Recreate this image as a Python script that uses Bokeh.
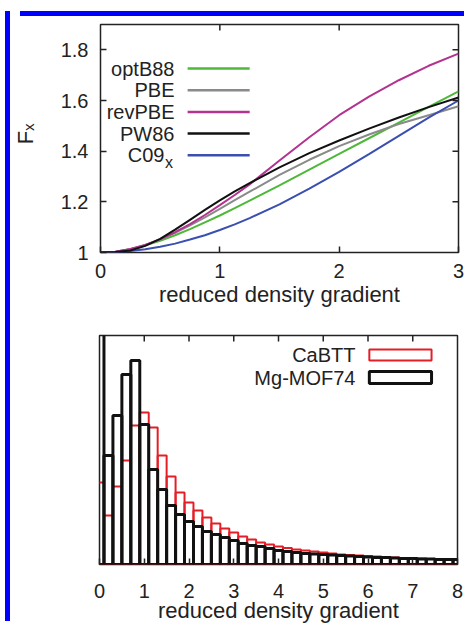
from bokeh.plotting import figure
from bokeh.models import Range1d, FixedTicker, Div
from bokeh.layouts import column, row
from bokeh.core.properties import value
from bokeh.embed import file_html
from bokeh.resources import INLINE

# ---------------- data: top panel (exchange enhancement factors) ----------------
s_grid = [0.0, 0.125, 0.25, 0.375, 0.5, 0.625, 0.75, 0.875, 1.0, 1.125, 1.25,
          1.5, 1.75, 2.0, 2.25, 2.5, 2.75, 3.0]
fx_optB88 = [1.000, 1.003, 1.013, 1.028, 1.046, 1.068, 1.092, 1.119, 1.146, 1.175, 1.205,
             1.265, 1.327, 1.389, 1.451, 1.513, 1.575, 1.636]
fx_PBE    = [1.000, 1.003, 1.013, 1.030, 1.051, 1.078, 1.107, 1.139, 1.172, 1.207, 1.240,
             1.306, 1.366, 1.420, 1.466, 1.507, 1.542, 1.577]
fx_revPBE = [1.000, 1.003, 1.014, 1.030, 1.053, 1.080, 1.112, 1.148, 1.187, 1.227, 1.269,
             1.363, 1.455, 1.542, 1.615, 1.680, 1.737, 1.785]
fx_PW86   = [1.000, 1.002, 1.008, 1.026, 1.054, 1.090, 1.129, 1.168, 1.206, 1.241, 1.274,
             1.336, 1.392, 1.442, 1.489, 1.533, 1.574, 1.612]
fx_C09x   = [1.000, 1.001, 1.006, 1.013, 1.023, 1.035, 1.051, 1.068, 1.089, 1.111, 1.136,
             1.190, 1.252, 1.318, 1.388, 1.460, 1.532, 1.600]
top_names = ["optB88", "PBE", "revPBE", "PW86", "C09"]
top_xticks = [0, 1, 2, 3]
top_yticks = [1, 1.2, 1.4, 1.6, 1.8]
x_title = "reduced density gradient"
y_title = "F\u2093"

# ---------------- data: bottom panel (histograms, arbitrary units) ----------------
bin_centers = [0.0, 0.2, 0.4, 0.6, 0.8, 1.0, 1.2, 1.4, 1.6, 1.8,
               2.0, 2.2, 2.4, 2.6, 2.8, 3.0, 3.2, 3.4, 3.6, 3.8,
               4.0, 4.2, 4.4, 4.6, 4.8, 5.0, 5.2, 5.4, 5.6, 5.8,
               6.0, 6.2, 6.4, 6.6, 6.8, 7.0, 7.2, 7.4, 7.6, 7.8, 8.0]
hist_CaBTT = [82, 49, 78, 104, 139, 152, 137, 109, 88, 72,
              62, 54, 47, 41, 36, 32, 28, 25, 22, 20,
              18, 16.5, 15, 14, 13, 12, 11, 10, 9.5, 9,
              8.5, 8, 7.5, 7, 6.5, 6, 6, 5.5, 5.5, 5, 5]
hist_MgMOF74 = [260, 109, 149, 190, 204, 140, 95, 75, 59, 50,
                43, 38, 33, 30, 27, 24, 21, 19, 18, 16,
                14, 13, 12, 11, 10.5, 10, 9.5, 9, 8.5, 8,
                7.5, 7, 7, 6.5, 6, 6, 5.5, 5.5, 5, 5, 5]
hist_names = ["CaBTT", "Mg-MOF74"]
bot_xticks = [0, 1, 2, 3, 4, 5, 6, 7, 8]
bin_width = 0.2

# ---------------- styles ----------------
FONT = "Liberation Sans"
TXT = "#222222"
C_GREEN, C_GRAY, C_MAG, C_BLACK, C_BLUE = "#4fb83a", "#8a8a8a", "#b3338f", "#111111", "#3b4fb0"
C_RED = "#e41e26"
BORDER_BLUE = "#0000ff"
TICK_LEN = 6  # px
LABEL_W = 40  # width of the strip that holds the y title


def style_axis(ax, ticks, standoff):
    ax.ticker = FixedTicker(ticks=ticks)
    ax.major_tick_in = TICK_LEN
    ax.major_tick_out = 0
    ax.minor_tick_in = 0
    ax.minor_tick_out = 0
    ax.axis_line_color = None
    ax.major_tick_line_color = TXT
    ax.major_tick_line_width = 1.5
    ax.major_label_text_font = FONT
    ax.major_label_text_color = TXT
    ax.major_label_text_font_size = "20px"
    ax.major_label_standoff = standoff
    ax.axis_label_text_font = FONT
    ax.axis_label_text_font_style = "normal"
    ax.axis_label_text_color = TXT


def mirror_ticks(p, xticks, yticks, fw, fh):
    """inward ticks on the top (and right) frame edges"""
    xr, yr = p.x_range, p.y_range
    dy = TICK_LEN * (yr.end - yr.start) / fh
    dx = TICK_LEN * (xr.end - xr.start) / fw
    if xticks:
        p.segment(x0=xticks, x1=xticks, y0=[yr.end] * len(xticks), y1=[yr.end - dy] * len(xticks),
                  line_color=TXT, line_width=1.5)
    if yticks:
        p.segment(x0=[xr.end] * len(yticks), x1=[xr.end - dx] * len(yticks), y0=yticks, y1=yticks,
                  line_color=TXT, line_width=1.5)


def strip(height, y_range, top, bottom):
    """blank figure (no axes) left of a plot; shares the plot's y range and frame height"""
    f = figure(width=LABEL_W, height=height, x_range=Range1d(0, LABEL_W), y_range=y_range,
               x_axis_type=None, y_axis_type=None,
               output_backend="svg", toolbar_location=None,
               min_border_left=0, min_border_right=0, min_border_top=top, min_border_bottom=bottom)
    f.grid.visible = False
    f.outline_line_color = None
    f.border_fill_color = "white"
    return f


# ---------------- top figure ----------------
W1, H1, L1, R1, T1, B1 = 451 - LABEL_W, 291, 45, 8, 3, 60
p1 = figure(width=W1, height=H1, x_range=Range1d(0, 3), y_range=Range1d(1, 1.9),
            output_backend="svg", toolbar_location=None,
            min_border_left=L1, min_border_right=R1, min_border_top=T1, min_border_bottom=B1)
p1.grid.visible = False
p1.outline_line_color = TXT
p1.outline_line_width = 1.5
p1.border_fill_color = "white"

series = [(fx_optB88, C_GREEN), (fx_PBE, C_GRAY), (fx_revPBE, C_MAG), (fx_C09x, C_BLUE), (fx_PW86, C_BLACK)]
for ys, col in series:
    p1.line(s_grid, ys, line_color=col, line_width=2)

style_axis(p1.xaxis[0], top_xticks, 11)
p1.xaxis[0].axis_label = x_title
p1.xaxis[0].axis_label_text_font_size = "22px"
p1.xaxis[0].axis_label_standoff = 1
style_axis(p1.yaxis[0], top_yticks, 12)
p1.yaxis[0].major_label_overrides = {1: "1"}
mirror_ticks(p1, top_xticks[1:-1], top_yticks[1:], W1 - L1 - R1, H1 - T1 - B1)

# rotated y title "F_x", in the strip left of the plot
s1 = strip(H1, p1.y_range, T1, B1)
s1.text(x=[9.5], y=[1.468], text=[y_title], angle=90, angle_units="deg",
        text_align="center", text_baseline="middle", text_font=value(FONT),
        text_font_size="22px", text_color=TXT)

# legend (text on the left, line sample on the right)
leg_text_x = 0.62
leg_line_x0, leg_line_x1 = 0.73, 1.25
leg_y0, leg_dy = 1.726, -0.0855
leg_cols = [C_GREEN, C_GRAY, C_MAG, C_BLACK, C_BLUE]
rows_y = [leg_y0 + i * leg_dy for i in range(len(top_names))]
p1.text(x=[leg_text_x] * 4, y=rows_y[:4], text=top_names[:4], text_align="right",
        text_baseline="middle", text_font=value(FONT), text_font_size="20px", text_color=TXT)
p1.text(x=[leg_text_x], y=[rows_y[4]], text=[top_names[4]], text_align="right",
        text_baseline="middle", text_font=value(FONT), text_font_size="20px", text_color=TXT,
        x_offset=-10)
p1.text(x=[leg_text_x], y=[rows_y[4]], text=["x"], text_align="left",
        text_baseline="middle", text_font=value(FONT), text_font_size="16px", text_color=TXT,
        x_offset=-9.5, y_offset=7)
p1.segment(x0=[leg_line_x0] * 5, y0=rows_y, x1=[leg_line_x1] * 5, y1=rows_y,
           line_color=leg_cols, line_width=2.5)

# ---------------- bottom figure ----------------
W2, H2, L2, R2, T2, B2 = 451 - LABEL_W, 314, 44, 9, 23, 62
p2 = figure(width=W2, height=H2, x_range=Range1d(0, 8), y_range=Range1d(0, 229),
            output_backend="svg", toolbar_location=None,
            min_border_left=L2, min_border_right=R2, min_border_top=T2, min_border_bottom=B2)
p2.grid.visible = False
p2.outline_line_color = TXT
p2.outline_line_width = 1.5
p2.border_fill_color = "white"

lefts = [c - bin_width / 2 for c in bin_centers]
rights = [c + bin_width / 2 for c in bin_centers]
p2.quad(left=lefts, right=rights, bottom=0, top=hist_CaBTT,
        fill_color=None, line_color=C_RED, line_width=2)
p2.quad(left=lefts, right=rights, bottom=0, top=hist_MgMOF74,
        fill_color=None, line_color=C_BLACK, line_width=3)

style_axis(p2.xaxis[0], bot_xticks, 19)
p2.xaxis[0].axis_label = x_title
p2.xaxis[0].axis_label_text_font_size = "22px"
p2.xaxis[0].axis_label_standoff = -3
p2.yaxis.visible = False
mirror_ticks(p2, bot_xticks[1:-1], [], W2 - L2 - R2, H2 - T2 - B2)
s2 = strip(H2, p2.y_range, T2, B2)

# legend
hl_text_x = 5.72
hl_box_x0, hl_box_x1 = 6.03, 7.42
hl_rows = [(204, 215), (181, 193)]
p2.text(x=[hl_text_x] * 2, y=[(b + t) / 2 for b, t in hl_rows], text=hist_names,
        text_align="right", text_baseline="middle", text_font=value(FONT),
        text_font_size="20px", text_color=TXT)
p2.quad(left=[hl_box_x0], right=[hl_box_x1], bottom=[hl_rows[0][0]], top=[hl_rows[0][1]],
        fill_color=None, line_color=C_RED, line_width=2)
p2.quad(left=[hl_box_x0], right=[hl_box_x1], bottom=[hl_rows[1][0]], top=[hl_rows[1][1]],
        fill_color=None, line_color=C_BLACK, line_width=3)

# ---------------- page frame ----------------
top_line = Div(width=464, height=2, margin=(-5, 0, 0, -8),
               styles={"background-color": "#3a72b4"})
vbar = Div(width=5, height=610, styles={"background-color": BORDER_BLUE})
hbar = Div(width=451, height=5, styles={"background-color": BORDER_BLUE})
main = row(vbar, column(hbar, row(s1, p1), row(s2, p2)), margin=(9, 0, 0, 0))
page = column(top_line, main)

open("out.html", "w").write(file_html(page, INLINE))
